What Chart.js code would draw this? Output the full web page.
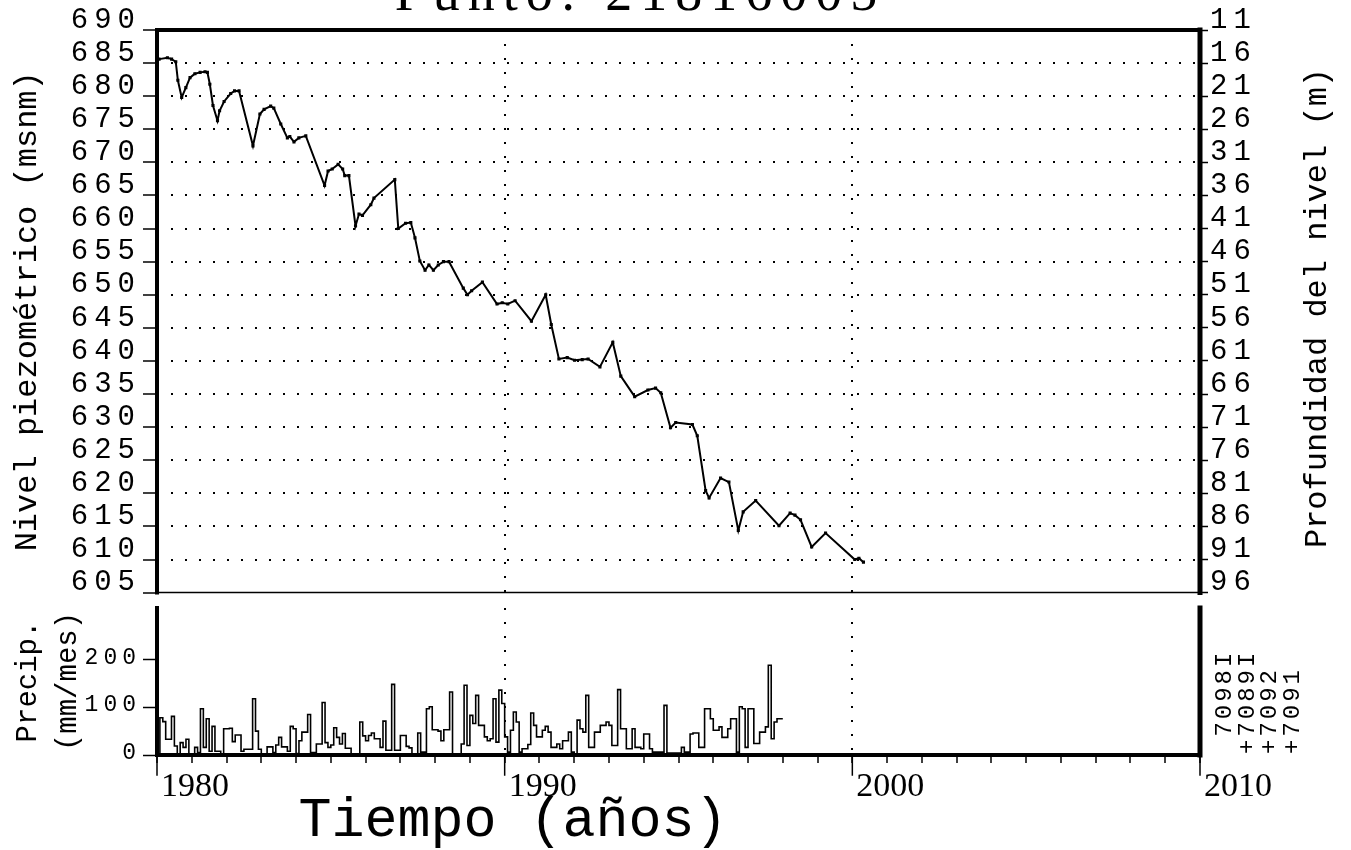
<!DOCTYPE html>
<html lang="es">
<head>
<meta charset="UTF-8">
<title>Punto: 21816005</title>
<script src="https://cdn.jsdelivr.net/npm/chart.js"></script>
<style>
  body { margin: 0; background: #fff; }
  #wrap { position: relative; width: 1351px; height: 850px; overflow: hidden; background: #fff; }
  #wrap canvas { position: absolute; left: 0; }
  #top { top: 0; }
  #bottom { top: 590px; }
</style>
</head>
<body>
<div id="wrap">
  <canvas id="top" width="1351" height="612"></canvas>
  <canvas id="bottom" width="1351" height="260"></canvas>
</div>
<script>
// nivel piezometrico (msnm), fecha en años decimales
const levelYears = [
  1980.06, 1980.30, 1980.42, 1980.54, 1980.60, 1980.71, 1980.83, 1980.95, 1981.09, 1981.24,
  1981.38, 1981.45, 1981.52, 1981.61, 1981.74, 1981.80, 1981.93, 1982.12, 1982.23, 1982.36,
  1982.76, 1982.96, 1983.08, 1983.27, 1983.36, 1983.56, 1983.75, 1983.82, 1983.94, 1984.08,
  1984.28, 1984.82, 1984.92, 1985.04, 1985.21, 1985.34, 1985.40, 1985.52, 1985.71, 1985.81,
  1985.91, 1986.15, 1986.24, 1986.84, 1986.94, 1987.15, 1987.30, 1987.42, 1987.56, 1987.71,
  1987.82, 1987.95, 1988.09, 1988.24, 1988.40, 1988.81, 1988.93, 1989.05, 1989.36, 1989.78,
  1989.93, 1990.09, 1990.30, 1990.77, 1991.18, 1991.34, 1991.56, 1991.80, 1992.01, 1992.23,
  1992.40, 1992.74, 1993.11, 1993.34, 1993.74, 1994.12, 1994.34, 1994.49, 1994.77, 1994.92,
  1995.40, 1995.54, 1995.78, 1995.88, 1996.21, 1996.45, 1996.72, 1996.86, 1997.22, 1997.89,
  1998.21, 1998.35, 1998.51, 1998.83, 1999.23, 2000.07, 2000.19, 2000.32
];
const levelValues = [
  685.6, 685.8, 685.6, 685.2, 682.4, 679.8, 681.3, 682.8, 683.4, 683.6,
  683.7, 683.6, 681.8, 678.6, 676.3, 677.8, 679.2, 680.4, 680.8, 680.8,
  672.5, 677.3, 678.0, 678.5, 678.2, 675.8, 673.7, 673.9, 673.1, 673.7,
  674.0, 666.5, 668.7, 669.0, 669.7, 669.0, 668.0, 668.0, 660.4, 662.2,
  662.0, 663.6, 664.6, 667.4, 660.0, 660.8, 660.9, 658.6, 655.1, 653.7,
  654.5, 653.7, 654.5, 655.0, 655.0, 651.0, 650.0, 650.6, 651.9, 648.6,
  648.8, 648.6, 649.1, 646.0, 650.0, 645.5, 640.3, 640.5, 640.1, 640.2,
  640.3, 639.1, 642.8, 637.7, 634.6, 635.6, 635.9, 635.2, 629.9, 630.7,
  630.4, 628.7, 620.4, 619.3, 622.3, 621.7, 614.4, 617.2, 618.9, 615.1,
  617.0, 616.7, 616.0, 611.9, 614.0, 610.0, 610.2, 609.6
];

// precipitacion mensual (mm/mes), enero 1980 a diciembre 1997
const precipStartYear = 1980;
const precipMonthly = [
  0, 0, 78, 70, 33, 33, 81, 19, 0, 26, 16, 33,
  0, 0, 16, 5, 97, 16, 76, 8, 60, 8, 8, 0,
  55, 55, 56, 28, 42, 42, 8, 12, 12, 12, 118, 50,
  12, 0, 0, 17, 17, 5, 21, 37, 17, 17, 8, 60,
  55, 3, 30, 48, 48, 85, 5, 5, 23, 23, 110, 26,
  16, 21, 57, 37, 23, 45, 14, 14, 0, 0, 0, 69,
  40, 30, 41, 46, 34, 34, 16, 71, 10, 10, 148, 10,
  10, 41, 41, 18, 15, 0, 0, 46, 6, 6, 97, 101,
  53, 53, 50, 30, 53, 53, 132, 0, 0, 0, 23, 146,
  20, 83, 66, 125, 62, 62, 38, 30, 34, 118, 27, 136,
  108, 38, 6, 52, 90, 69, 6, 13, 13, 22, 88, 62,
  38, 38, 52, 60, 48, 16, 16, 23, 13, 30, 30, 48,
  6, 2, 73, 55, 48, 125, 16, 16, 48, 48, 62, 62,
  69, 62, 20, 20, 137, 55, 55, 13, 13, 55, 16, 16,
  13, 44, 44, 13, 6, 6, 6, 6, 104, 4, 4, 4,
  4, 4, 16, 6, 6, 44, 46, 46, 16, 16, 97, 97,
  76, 52, 52, 59, 37, 37, 55, 76, 76, 6, 101, 97,
  16, 97, 97, 24, 24, 48, 48, 59, 188, 34, 69, 76
];

const yearMin = 1980, yearMax = 2010;
const gridYears = [1990, 2000];
const decadeYears = [1980, 1990, 2000, 2010];
const levelMin = 605, levelMax = 690, levelStep = 5;
const depthOffset = 701;            // profundidad = 701 - nivel
const precipMax = 308;
const precipTicks = [0, 100, 200];
const stationLabels = [' 7098I', '+7089I', '+7092', '+7091'];

Chart.defaults.font.family = '"Liberation Mono", monospace';
Chart.defaults.color = '#000';

const DOT = [2, 12];
const NONE = 'rgba(0,0,0,0)';

const deco = {
  id: 'deco',
  beforeDraw(chart) { chart.ctx.letterSpacing = '0px'; },
  afterDatasetsDraw(chart, args, o) { chart.ctx.letterSpacing = o.tickSpacing || '0px'; },
  afterDraw(chart, args, o) {
    const { ctx, chartArea: a } = chart;
    ctx.save();
    ctx.letterSpacing = '0px';
    ctx.strokeStyle = '#000';
    ctx.fillStyle = '#000';
    ctx.lineCap = 'square';
    const sides = {
      left: [a.left, a.top, a.left, a.bottom],
      right: [a.right, a.top, a.right, a.bottom],
      top: [a.left, a.top, a.right, a.top],
      bottom: [a.left, a.bottom, a.right, a.bottom]
    };
    Object.entries(o.frame || {}).forEach(([s, w]) => {
      const p = sides[s];
      ctx.lineWidth = w;
      ctx.beginPath(); ctx.moveTo(p[0], p[1]); ctx.lineTo(p[2], p[3]); ctx.stroke();
    });
    if (o.majorTicks) {
      const xs = chart.scales.x;
      ctx.lineWidth = 1.5;
      o.majorTicks.forEach(v => {
        const px = xs.getPixelForValue(v);
        ctx.beginPath(); ctx.moveTo(px, a.bottom); ctx.lineTo(px, a.bottom + o.majorLen); ctx.stroke();
      });
    }
    (o.texts || []).forEach(t => {
      ctx.save();
      ctx.font = t.font;
      ctx.letterSpacing = t.spacing || '0px';
      ctx.textAlign = t.align || 'center';
      ctx.textBaseline = t.baseline || 'alphabetic';
      ctx.translate(t.x, t.y);
      if (t.rotate) ctx.rotate(t.rotate);
      ctx.fillText(t.text, 0, 0);
      ctx.restore();
    });
    ctx.restore();
  }
};

const gridX = c => (c.tick && gridYears.includes(c.tick.value)) ? '#000' : NONE;

// panel superior: nivel piezometrico
new Chart(document.getElementById('top'), {
  type: 'line',
  data: {
    datasets: [{
      data: levelYears.map((x, i) => ({ x, y: levelValues[i] })),
      borderColor: '#000', borderWidth: 2, tension: 0,
      pointStyle: 'rect', pointRadius: 2.2, pointBackgroundColor: '#000', pointBorderWidth: 0
    }]
  },
  options: {
    responsive: false, animation: false,
    layout: { padding: { top: 30, bottom: 4, left: 0, right: 0 } },
    plugins: {
      legend: { display: false }, tooltip: { enabled: false },
      deco: {
        tickSpacing: '6px',
        frame: { left: 4, top: 4, right: 5, bottom: 1.5 },
        texts: [
          { text: 'Punto: 21816005', font: '54px "Liberation Serif"', spacing: '8px', x: 640, y: 10 },
          { text: 'Profundidad del nivel (m)', font: '32px "Liberation Mono"', x: 1318, y: 308,
            rotate: -Math.PI / 2, baseline: 'middle' }
        ]
      }
    },
    scales: {
      x: {
        type: 'linear', min: yearMin, max: yearMax,
        afterFit: s => { s.height = 0; },
        ticks: { display: false, stepSize: 10 },
        grid: { drawTicks: false, lineWidth: 2, color: gridX },
        border: { display: false, dash: DOT }
      },
      y: {
        position: 'left', min: levelMin, max: levelMax,
        afterFit: s => { s.width = 157; },
        ticks: { stepSize: levelStep, autoSkip: false, z: 1, labelOffset: -10, padding: 2, font: { size: 29 } },
        grid: {
          lineWidth: 2, tickLength: 14, tickWidth: 1.5, tickColor: '#000', tickBorderDash: [],
          color: c => (c.tick && c.tick.value > levelMin && c.tick.value < levelMax) ? '#000' : NONE
        },
        border: { display: false, dash: DOT },
        title: { display: true, text: 'Nivel piezométrico (msnm)', padding: { top: 8, bottom: 0 },
                 font: { size: 32, lineHeight: 1.25 } }
      },
      y2: {
        position: 'right', min: levelMin, max: levelMax,
        afterFit: s => { s.width = 151; },
        ticks: { stepSize: levelStep, autoSkip: false, z: 1, labelOffset: -10, padding: 2, font: { size: 29 },
                 callback: v => String(depthOffset - v) },
        grid: { drawOnChartArea: false, tickLength: 8, tickWidth: 1.5, tickColor: '#000' },
        border: { display: false }
      }
    }
  },
  plugins: [deco]
});

// panel inferior: precipitacion mensual
const precipPoints = precipMonthly.map((v, k) => ({ x: precipStartYear + k / 12, y: v }));
precipPoints.push({ x: precipStartYear + precipMonthly.length / 12, y: precipMonthly[precipMonthly.length - 1] });

new Chart(document.getElementById('bottom'), {
  type: 'line',
  data: {
    datasets: [{
      data: precipPoints,
      borderColor: '#000', borderWidth: 1.6, stepped: 'after', pointRadius: 0
    }]
  },
  options: {
    responsive: false, animation: false,
    layout: { padding: { top: 18, bottom: 0, left: 0, right: 0 } },
    plugins: {
      legend: { display: false }, tooltip: { enabled: false },
      deco: {
        tickSpacing: '5px',
        frame: { left: 4, right: 5, bottom: 4 },
        majorTicks: decadeYears, majorLen: 20,
        texts: [
          { text: 'Tiempo (años)', font: '55px "Liberation Mono"', x: 513, y: 246 }
        ].concat(stationLabels.map((s, i) => ({
          text: s, font: '24px "Liberation Mono"', spacing: '3px', x: 1225 + i * 22.5, y: 164,
          rotate: -Math.PI / 2, align: 'left', baseline: 'middle'
        })))
      }
    },
    scales: {
      x: {
        type: 'linear', min: yearMin, max: yearMax,
        afterFit: s => { s.height = 95; },
        ticks: {
          stepSize: 1, autoSkip: false, maxRotation: 0, z: -1, labelOffset: 38, padding: 4,
          font: { family: '"Liberation Serif", serif', size: 34 },
          callback: v => (Math.round(v) % 10 === 0 ? String(Math.round(v)) : '')
        },
        grid: { lineWidth: 2, tickLength: 8, tickWidth: 1.5, tickColor: '#000', tickBorderDash: [], color: gridX },
        border: { display: false, dash: DOT }
      },
      y: {
        position: 'left', min: 0, max: precipMax,
        afterFit: s => { s.width = 157; },
        afterBuildTicks: s => { s.ticks = precipTicks.map(v => ({ value: v })); },
        ticks: {
          autoSkip: false, z: 1, labelOffset: -2, padding: 2, font: { size: 23 },
          callback: v => String(v)
        },
        grid: { drawOnChartArea: false, tickLength: 14, tickWidth: 1.5, tickColor: '#000' },
        border: { display: false },
        title: { display: true, text: ['Precip.', '(mm/mes)'], padding: { top: 8, bottom: 0 },
                 font: { size: 29, lineHeight: 1.38 } }
      },
      y2: {
        position: 'right', min: 0, max: precipMax,
        afterFit: s => { s.width = 151; },
        ticks: { display: false },
        grid: { display: false },
        border: { display: false }
      }
    }
  },
  plugins: [deco]
});
</script>
</body>
</html>
